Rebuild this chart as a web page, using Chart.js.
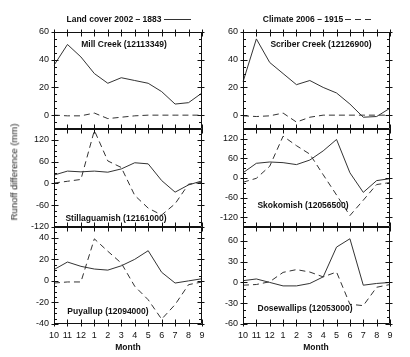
<!DOCTYPE html>
<html>
<head>
<meta charset="utf-8">
<script src="https://cdn.jsdelivr.net/npm/chart.js@4.4.1/dist/chart.umd.min.js"></script>
<style>
  html, body { margin: 0; padding: 0; background: #fff; }
  #wrap { position: relative; width: 410px; height: 357px; overflow: hidden; font-family: "Liberation Sans", Arial, Helvetica, sans-serif; color: #111; }
  canvas { position: absolute; }
  .t { position: absolute; white-space: nowrap; transform: translate(-50%, -50%); line-height: 1; }
  .b { font-weight: bold; font-size: 8.5px; }
</style>
</head>
<body>
<div id="wrap">
  <div class="t b" style="left:114px; top:19px;">Land cover 2002 – 1883</div>
  <svg style="position:absolute; left:163px; top:14px;" width="30" height="10"><line x1="1" y1="5.5" x2="28" y2="5.5" stroke="#333" stroke-width="1"/></svg>
  <div class="t b" style="left:303px; top:19px;">Climate 2006 – 1915</div>
  <svg style="position:absolute; left:344px; top:14px;" width="32" height="10"><line x1="1" y1="5.5" x2="29" y2="5.5" stroke="#333" stroke-width="1" stroke-dasharray="6,4"/></svg>
  <div class="t" style="left:14px; top:172px; transform: translate(-50%,-50%) rotate(-90deg); font-size:9.5px; color:#222;">Runoff difference (mm)</div>
  <div class="t b" style="left:128px; top:347px;">Month</div>
  <div class="t b" style="left:316px; top:347px;">Month</div>
</div>
<script>
// ---- data ----
const months = ['10','11','12','1','2','3','4','5','6','7','8','9'];

const millLand      = [36, 51, 42, 30, 23, 27, 25, 23, 17, 8, 9, 16];
const millClimate   = [0, -0.5, -0.5, 1.5, -2.5, -1.5, -0.5, 0, 0, 0, 0, 0];

const scriberLand    = [24, 55, 38, 30, 22, 25, 20, 16, 8, -1.5, -1, 5];
const scriberClimate = [-0.5, -1, -0.5, 1.5, -5, -1.5, 0, 0, 0, 0, 0, 0];

const stillLand    = [23, 34, 32, 34, 31, 40, 57, 54, 8, -24, -4, 7];
const stillClimate = [1, 6, 11, 146, 62, 44, -33, -68, -87, -56, -2, 3];

const skokLand    = [16, 45, 49, 47, 41, 55, 83, 118, 16, -44, -8, -2];
const skokClimate = [-13, -1, 36, 128, 99, 73, 10, -52, -115, -68, -20, -14];

const puyLand    = [10.5, 17.5, 13.5, 11, 10, 14, 20, 28, 8, -2, 0, 2];
const puyClimate = [-2, -1, -1, 39, 27.5, 16.5, -5, -17.5, -35.5, -22, -3.5, -1];

const doseLand    = [2.5, 5, 0, -5, -5, -1.5, 8, 51, 63, -4, -1.5, 0];
const doseClimate = [-4, -3, 1, 14.5, 18.5, 15, 8, 15, -31.5, -33.5, -7, -3];

// tick labels per panel
const ticksTop      = [0, 20, 40, 60];
const ticksMidLeft  = [-120, -60, 0, 60, 120];
const ticksMidRight = [-120, -60, 0, 60, 120];
const ticksBotLeft  = [-40, -20, 0, 20, 40];
const ticksBotRight = [-60, -30, 0, 30, 60];

const panelTitles = ['Mill Creek (12113349)', 'Scriber Creek (12126900)',
                     'Stillaguamish (12161000)', 'Skokomish (12056500)',
                     'Puyallup (12094000)', 'Dosewallips (12053000)'];

// ---- tick/frame plugin ----
const frameTicks = {
  id: 'frameTicks',
  afterDraw(chart, args, opts) {
    const ctx = chart.ctx, a = chart.chartArea;
    const xs = chart.scales.x, ys = chart.scales.y;
    const L = Math.round(a.left) + 0.5, R = Math.round(a.right) - 0.5;
    const T = Math.round(a.top) + 0.5, B = Math.round(a.bottom) - 0.5;
    ctx.save();
    ctx.strokeStyle = '#111';
    ctx.lineWidth = 1;
    ctx.beginPath();
    ctx.rect(L, T, R - L, B - T);
    const mn = opts.minor;
    for (let v = Math.ceil(ys.min / mn) * mn; v <= ys.max + 1e-9; v += mn) {
      const y = Math.round(ys.getPixelForValue(v)) + 0.5;
      ctx.moveTo(L, y); ctx.lineTo(L + 2.5, y);
      ctx.moveTo(R, y); ctx.lineTo(R - 2.5, y);
    }
    ys.ticks.forEach(t => {
      const y = Math.round(ys.getPixelForValue(t.value)) + 0.5;
      ctx.moveTo(L - 3, y); ctx.lineTo(L + 4, y);
      ctx.moveTo(R - 4, y); ctx.lineTo(R + 3, y);
    });
    for (let i = 0; i < months.length; i++) {
      const x = Math.round(xs.getPixelForValue(i)) + 0.5;
      ctx.moveTo(x, T - 3); ctx.lineTo(x, T + 4);
      ctx.moveTo(x, B + 3); ctx.lineTo(x, B - 4);
    }
    ctx.stroke();
    ctx.restore();
  }
};

const wrap = document.getElementById('wrap');
const PAD = 12;

function panel(left, top, w, h, bottomRow, yMin, yMax, tickVals, minor, land, climate) {
  const cv = document.createElement('canvas');
  const cw = 40 + w + PAD;
  const ch = bottomRow ? PAD + h + 26 : PAD + h + PAD;
  cv.width = cw; cv.height = ch;
  cv.style.left = (left - 40) + 'px';
  cv.style.top = (top - PAD) + 'px';
  cv.style.width = cw + 'px'; cv.style.height = ch + 'px';
  wrap.insertBefore(cv, wrap.firstChild);
  new Chart(cv.getContext('2d'), {
    type: 'line',
    data: {
      labels: months,
      datasets: [
        { data: land, borderColor: '#333', borderWidth: 1, pointRadius: 0, tension: 0, fill: false },
        { data: climate, borderColor: '#333', borderWidth: 1, borderDash: [6, 4], pointRadius: 0, tension: 0, fill: false }
      ]
    },
    options: {
      responsive: false,
      animation: false,
      events: [],
      layout: { autoPadding: false, padding: { left: 0, right: PAD, top: PAD, bottom: bottomRow ? 0 : PAD } },
      plugins: { legend: { display: false }, tooltip: { enabled: false }, frameTicks: { minor: minor } },
      scales: {
        x: {
          display: bottomRow,
          offset: false,
          grid: { display: false, drawTicks: false, tickLength: 0 },
          border: { display: false },
          ticks: { color: '#111', font: { family: '"Liberation Sans", Arial', size: 9 }, padding: 6, maxRotation: 0, autoSkip: false },
          afterFit(s) { if (bottomRow) s.height = 26; }
        },
        y: {
          min: yMin, max: yMax,
          grid: { display: false, drawTicks: false, tickLength: 0 },
          border: { display: false },
          ticks: { color: '#111', font: { family: '"Liberation Sans", Arial', size: 9 }, padding: 5 },
          afterBuildTicks(s) { s.ticks = tickVals.map(v => ({ value: v })); },
          afterFit(s) { s.width = 40; }
        }
      }
    },
    plugins: [frameTicks]
  });
}

const LX = 54, RX = 243, PW = 148, PW2 = 147;
panel(LX, 32, PW, 97, false, -10, 60, ticksTop, 5, millLand, millClimate);
panel(RX, 32, PW2, 97, false, -10, 60, ticksTop, 5, scriberLand, scriberClimate);
panel(LX, 129, PW, 98, false, -120, 150, ticksMidLeft, 15, stillLand, stillClimate);
panel(RX, 129, PW2, 98, false, -150, 150, ticksMidRight, 15, skokLand, skokClimate);
panel(LX, 227, PW, 97, true, -40, 50, ticksBotLeft, 5, puyLand, puyClimate);
panel(RX, 227, PW2, 97, true, -60, 80, ticksBotRight, 10, doseLand, doseClimate);

const titlePos = [[124, 44], [321, 44], [116, 218], [303, 205], [108, 311], [305, 308]];
panelTitles.forEach((t, i) => {
  const d = document.createElement('div');
  d.className = 't b';
  d.style.left = titlePos[i][0] + 'px';
  d.style.top = titlePos[i][1] + 'px';
  d.textContent = t;
  wrap.appendChild(d);
});
</script>
</body>
</html>
